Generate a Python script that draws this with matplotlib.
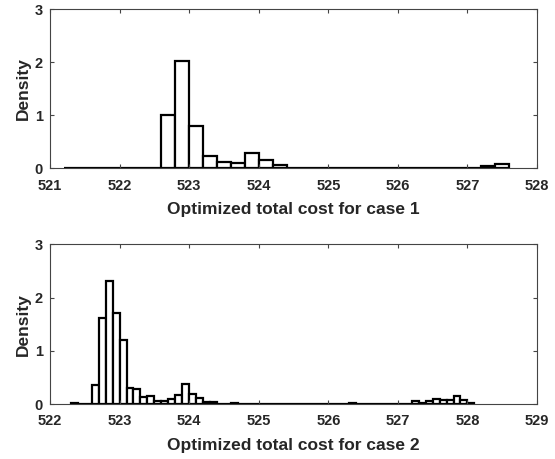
import numpy as np
import matplotlib
matplotlib.use("Agg")
import matplotlib.pyplot as plt

plt.rcParams['font.family'] = ['Liberation Sans', 'DejaVu Sans']
plt.rcParams['font.weight'] = 'bold'

# case 1: bins of width 0.2 starting at 521.2
edges1_start = 521.2
width1 = 0.2
dens1 = [0.01, 0, 0, 0, 0, 0, 0,
         1.00, 2.02, 0.79, 0.23, 0.12, 0.095, 0.28, 0.16, 0.06,
         0, 0, 0, 0, 0, 0, 0, 0, 0, 0, 0, 0, 0, 0,
         0.04, 0.09]

# case 2: bins of width 0.1 starting at 522.3
edges2_start = 522.3
width2 = 0.1
dens2 = [0.02, 0, 0,
         0.36, 1.61, 2.32, 1.72, 1.21, 0.31, 0.29, 0.14, 0.16,
         0.06, 0.06, 0.09, 0.17, 0.38, 0.18, 0.12, 0.03, 0.03,
         0, 0, 0.02,
         0, 0, 0, 0, 0, 0, 0, 0, 0, 0, 0, 0, 0, 0, 0, 0,
         0.02,
         0, 0, 0, 0, 0, 0, 0, 0,
         0.06, 0.02, 0.06, 0.10, 0.08, 0.08, 0.16, 0.08, 0.02]

xlabels = ["Optimized total cost for case 1", "Optimized total cost for case 2"]
xlims = [(521, 528), (522, 529)]

fig = plt.figure(figsize=(5.55, 4.59), dpi=100)
ax1 = fig.add_axes([0.0901, 0.6333, 0.8775, 0.3464])
ax2 = fig.add_axes([0.0901, 0.1198, 0.8775, 0.3477])

datasets = [(ax1, edges1_start, width1, dens1),
            (ax2, edges2_start, width2, dens2)]

for i, (ax, start, w, d) in enumerate(datasets):
    lefts = start + w * np.arange(len(d))
    ax.bar(lefts, d, width=w, align='edge', color='white',
           edgecolor='black', linewidth=1.6)
    ax.set_xlim(*xlims[i])
    ax.set_ylim(0, 3)
    ax.set_yticks([0, 1, 2, 3])
    ax.set_xticks(np.arange(xlims[i][0], xlims[i][1] + 1))
    ax.tick_params(direction='in', top=True, right=True, length=3,
                   width=0.8, color='#444444', labelsize=10.5)
    ax.tick_params(axis='x', pad=7.5)
    ax.tick_params(axis='y', pad=5)
    for lab in ax.get_xticklabels() + ax.get_yticklabels():
        lab.set_fontweight('bold')
        lab.set_color('#262626')
    for sp in ax.spines.values():
        sp.set_color('#444444')
        sp.set_linewidth(0.8)
    ax.set_xlabel(xlabels[i], fontsize=12.5, fontweight='bold', color='#262626',
                  labelpad=7)
    ax.set_ylabel("Density", fontsize=12.5, fontweight='bold', color='#262626',
                  labelpad=3)

fig.savefig("out.png", dpi=100)
